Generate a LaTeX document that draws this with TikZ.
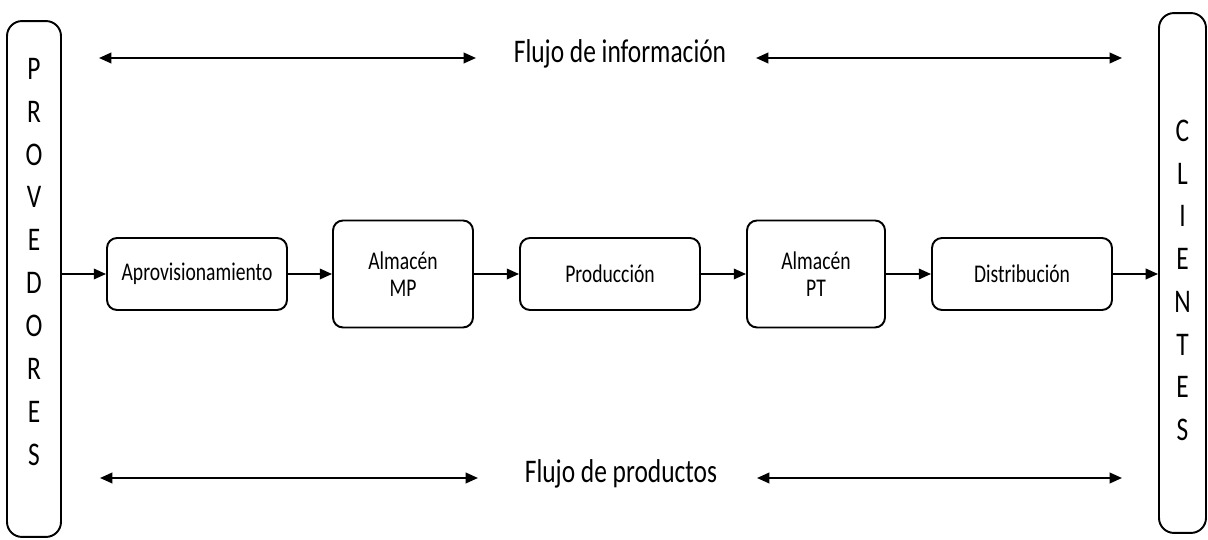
\documentclass[tikz,border=0pt]{standalone}
\usepackage{fontspec}
\setmainfont{Carlito}[FakeStretch=0.77]
\usetikzlibrary{arrows.meta}
\tikzset{
  caja/.style={draw, line width=1.1pt, rounded corners=0.2cm, align=center,
    font=\fontsize{14.5}{15}\selectfont},
  lateral/.style={draw, line width=1.1pt, rounded corners=0.3cm},
  letra/.style={font=\fontsize{18.8}{18.8}\selectfont},
  flecha/.style={line width=1.1pt, -{Triangle[length=7pt,width=6pt]}},
  doble/.style={line width=1.1pt, {Triangle[length=7pt,width=6pt]}-{Triangle[length=7pt,width=6pt]}}
}

\begin{document}
\begin{tikzpicture}[x=0.02cm, y=-0.02cm]
  \useasboundingbox (0,0) rectangle (1208,540);
  % extremos
  \node[lateral, minimum width=1.08cm, minimum height=10.32cm] (prov) at (34,279) {};
  \node[lateral, minimum width=0.94cm, minimum height=10.4cm] (cli) at (1182.5,273) {};
  \foreach \l [count=\i] in {P,R,O,V,E,D,O,R,E,S}
    \node[letra] (p\i) at ({34},{68.7+42.9*(\i-1)}) {\l};
  \foreach \l [count=\i] in {C,L,I,E,N,T,E,S}
    \node[letra] (c\i) at ({1182.5},{131+42.7*(\i-1)}) {\l};
  % cadena
  \node[caja, minimum width=3.6cm, minimum height=1.44cm] (aprov) at (197,274) {Aprovisionamiento};
  \node[caja, minimum width=2.8cm, minimum height=2.14cm] (mp) at (403,274) {Almacén\\MP};
  \node[caja, minimum width=3.6cm, minimum height=1.44cm] (prod) at (610,274) {Producción};
  \node[caja, minimum width=2.76cm, minimum height=2.14cm] (pt) at (816,274) {Almacén\\PT};
  \node[caja, minimum width=3.6cm, minimum height=1.44cm] (dist) at (1022,274) {Distribución};
  \draw[flecha] (prov.east |- aprov.west) -- (aprov.west);
  \draw[flecha] (aprov) -- (mp);
  \draw[flecha] (mp) -- (prod);
  \draw[flecha] (prod) -- (pt);
  \draw[flecha] (pt) -- (dist);
  \draw[flecha] (dist.east) -- (cli.west |- dist.east);
  % flujos
  \node[letra] (info) at (620,54) {Flujo de información};
  \coordinate (i1) at (99,58);
  \coordinate (i2) at (476,58);
  \coordinate (i3) at (756,58);
  \coordinate (i4) at (1122,58);
  \draw[doble] (i1) -- (i2);
  \draw[doble] (i3) -- (i4);
  \node[letra] (prodflujo) at (621,474) {Flujo de productos};
  \coordinate (f1) at (100,478);
  \coordinate (f2) at (478,478);
  \coordinate (f3) at (757,478);
  \coordinate (f4) at (1122,478);
  \draw[doble] (f1) -- (f2);
  \draw[doble] (f3) -- (f4);
\end{tikzpicture}
\end{document}
